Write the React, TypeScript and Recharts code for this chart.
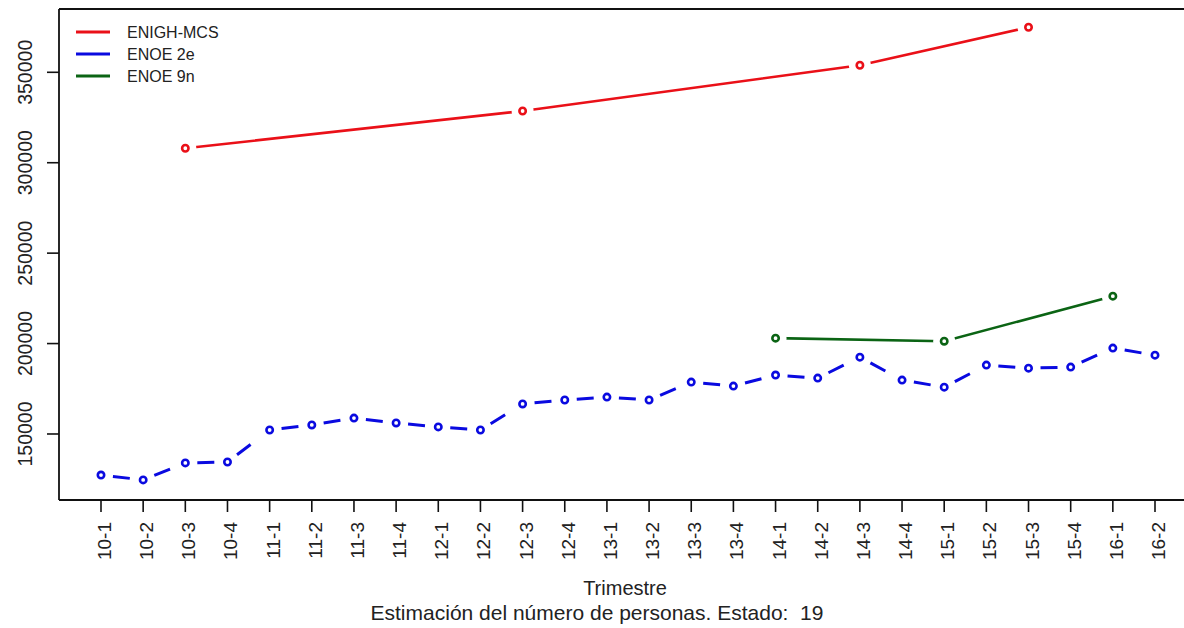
import React from 'react';
import { LineChart, Line, XAxis, YAxis, ReferenceLine, Legend } from 'recharts';

const quarters = [
  '10-1', '10-2', '10-3', '10-4', '11-1', '11-2', '11-3', '11-4', '12-1', '12-2', '12-3', '12-4', '13-1',
  '13-2', '13-3', '13-4', '14-1', '14-2', '14-3', '14-4', '15-1', '15-2', '15-3', '15-4', '16-1', '16-2',
];

const enighMcs = [
  null, null, 308000, null, null, null, null, null, null, null, 328600, null, null,
  null, null, null, null, null, 353900, null, null, null, 374900, null, null, null,
];

const enoe2e = [
  127300, 124600, 134000, 134500, 152200, 155000, 158800, 156100, 153900, 152200, 166600, 168800, 170400,
  168800, 178700, 176500, 182600, 180900, 192500, 179800, 175900, 188100, 186400, 187000, 197500, 193600,
];

const enoe9n = [
  null, null, null, null, null, null, null, null, null, null, null, null, null,
  null, null, null, 203000, null, null, null, 201300, null, null, null, 226200, null,
];

const yTicks = [150000, 200000, 250000, 300000, 350000];

const seriesNames = ['ENIGH-MCS', 'ENOE 2e', 'ENOE 9n'];
const seriesColors = ['#ea1018', '#0a0ae0', '#0b6414'];

const FONT = '"Liberation Sans", Arial, sans-serif';

// one row per quarter; the dashed blue line is split into segments so each dash restarts (like R type="b")
const rows = quarters.map((q, i) => {
  const r: { [k: string]: string | number | null } = {
    q,
    enigh: enighMcs[i],
    e2e: enoe2e[i],
    e9n: enoe9n[i],
  };
  if (i < quarters.length - 1) r['s' + i] = enoe2e[i];
  if (i > 0) r['s' + (i - 1)] = enoe2e[i];
  return r;
});
const segKeys = quarters.slice(0, -1).map((_, i) => 's' + i);

function makeDot(color: string) {
  return (props: any) => {
    const { cx, cy, value, index } = props;
    if (value == null || cx == null || cy == null) return <g key={'d' + index} />;
    return (
      <g key={'d' + index}>
        <circle cx={cx} cy={cy} r={11} fill="#fff" stroke="none" />
        <circle cx={cx} cy={cy} r={3.2} fill="#fff" stroke={color} strokeWidth={2.6} />
      </g>
    );
  };
}

function YTick(props: any) {
  const { x, y, payload } = props;
  return (
    <text transform={`translate(${x - 13}, ${y}) rotate(-90)`} textAnchor="middle"
      fontFamily={FONT} fontSize={19.5} fill="#222">
      {payload.value}
    </text>
  );
}

function XTick(props: any) {
  const { x, y, payload } = props;
  return (
    <text transform={`translate(${x + 10}, ${y + 8}) rotate(-90)`} textAnchor="end"
      fontFamily={FONT} fontSize={19} fill="#222">
      {payload.value}
    </text>
  );
}

function AxisTitles(props: any) {
  const { viewBox } = props;
  const mid = viewBox.x + viewBox.width / 2;
  return (
    <g fontFamily={FONT} fill="#222">
      <text x={mid - 3} y={595} textAnchor="middle" fontSize={20}>Trimestre</text>
      <text x={597} y={620} textAnchor="middle" fontSize={21}>{'Estimación del número de personas. Estado:\u00a0\u00a019'}</text>
    </g>
  );
}

function LegendBox() {
  return (
    <svg width={200} height={80} style={{ display: 'block' }}>
      {seriesNames.map((name, i) => (
        <g key={name}>
          <line x1={16} x2={50} y1={23 + i * 22} y2={23 + i * 22} stroke={seriesColors[i]} strokeWidth={3} />
          <text x={67} y={23 + i * 22 + 6} fontFamily={FONT} fontSize={16} fill="#222">{name}</text>
        </g>
      ))}
    </svg>
  );
}

export default function App() {
  return (
    <div style={{ position: 'absolute', left: 0, top: 0, width: 1184, height: 628, overflow: 'hidden', background: '#fff' }}>
      <LineChart width={1210} height={628} data={rows} margin={{ top: 9, right: 13, bottom: 0, left: 0 }}>
        <XAxis dataKey="q" type="category" interval={0} height={128} padding={{ left: 42, right: 42 }}
          tickSize={12} tick={<XTick />} axisLine={{ stroke: '#111', strokeWidth: 1.8 }}
          tickLine={{ stroke: '#111', strokeWidth: 1.6 }} label={<AxisTitles />} />
        <YAxis type="number" domain={[113500, 385000]} ticks={yTicks} width={59} tickSize={12}
          tick={<YTick />} axisLine={{ stroke: '#111', strokeWidth: 1.8 }}
          tickLine={{ stroke: '#111', strokeWidth: 1.6 }} allowDataOverflow />
        <ReferenceLine y={385000} stroke="#111" strokeWidth={1.8} />
        <Legend layout="vertical" align="center" verticalAlign="middle" content={() => <LegendBox />}
          wrapperStyle={{ position: 'absolute', left: 60, top: 9, width: 200, height: 80 }} />
        {segKeys.map((k) => (
          <Line key={k} type="linear" dataKey={k} stroke={seriesColors[1]} strokeWidth={3}
            strokeDasharray="0 12 17 100" dot={false} activeDot={false} legendType="none"
            isAnimationActive={false} />
        ))}
        <Line type="linear" dataKey="e2e" name="ENOE 2e" stroke="none" strokeWidth={0}
          dot={makeDot(seriesColors[1])} activeDot={false} isAnimationActive={false} />
        <Line type="linear" dataKey="enigh" name="ENIGH-MCS" stroke={seriesColors[0]} strokeWidth={2.6}
          connectNulls dot={makeDot(seriesColors[0])} activeDot={false} isAnimationActive={false} />
        <Line type="linear" dataKey="e9n" name="ENOE 9n" stroke={seriesColors[2]} strokeWidth={2.6}
          connectNulls dot={makeDot(seriesColors[2])} activeDot={false} isAnimationActive={false} />
      </LineChart>
    </div>
  );
}
